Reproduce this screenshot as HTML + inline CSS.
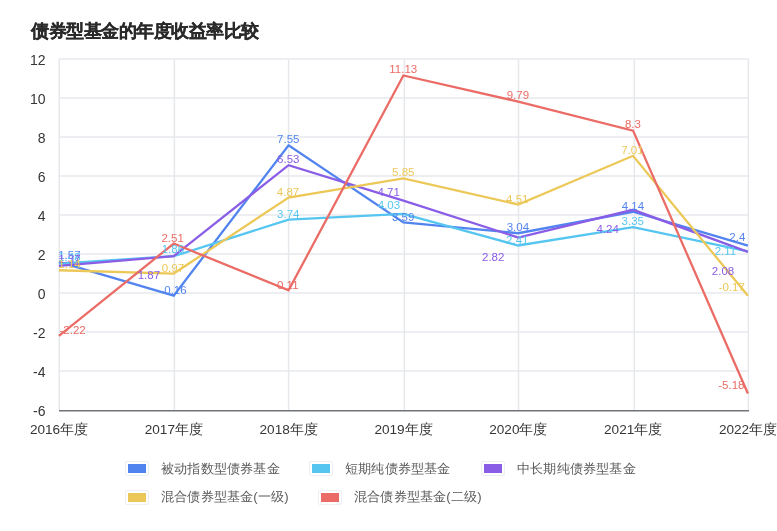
<!DOCTYPE html>
<html><head><meta charset="utf-8"><style>
html,body{margin:0;padding:0;background:#fff;}
body{width:777px;height:531px;overflow:hidden;position:relative;will-change:transform;font-family:"Liberation Sans",sans-serif;}
svg{position:absolute;left:0;top:0;will-change:transform;}
svg text{font-family:"Liberation Sans",sans-serif;}
.title{position:absolute;left:30.5px;top:19px;font-size:18px;transform:scale(0.974);transform-origin:0 0;font-weight:bold;color:#2a2a2a;-webkit-text-stroke:0.25px #2a2a2a;white-space:nowrap;line-height:24px;}
.lg{position:absolute;height:16px;font-size:13px;color:#5c5c5c;white-space:nowrap;line-height:16px;}
.ic{position:absolute;left:-1px;top:0;width:24px;height:15px;box-sizing:border-box;border:1px solid #edeff2;border-radius:2px;background:#fff;}
.ic i{position:absolute;left:2px;top:2px;width:18px;height:9px;}
.lg span{position:absolute;left:34.5px;top:0;transform:scaleX(1.015);transform-origin:0 0;}
</style></head><body>
<div class="title">债券型基金的年度收益率比较</div>
<svg width="777" height="531" viewBox="0 0 777 531">

<line x1="59" y1="58.9" x2="748.5" y2="58.9" stroke="#e6e8ec" stroke-width="1.5"/>
<line x1="59" y1="97.9" x2="748.5" y2="97.9" stroke="#e6e8ec" stroke-width="1.5"/>
<line x1="59" y1="136.9" x2="748.5" y2="136.9" stroke="#e6e8ec" stroke-width="1.5"/>
<line x1="59" y1="175.9" x2="748.5" y2="175.9" stroke="#e6e8ec" stroke-width="1.5"/>
<line x1="59" y1="214.9" x2="748.5" y2="214.9" stroke="#e6e8ec" stroke-width="1.5"/>
<line x1="59" y1="253.9" x2="748.5" y2="253.9" stroke="#e6e8ec" stroke-width="1.5"/>
<line x1="59" y1="292.9" x2="748.5" y2="292.9" stroke="#e6e8ec" stroke-width="1.5"/>
<line x1="59" y1="331.9" x2="748.5" y2="331.9" stroke="#e6e8ec" stroke-width="1.5"/>
<line x1="59" y1="370.9" x2="748.5" y2="370.9" stroke="#e6e8ec" stroke-width="1.5"/>
<line x1="59.2" y1="59" x2="59.2" y2="410" stroke="#e6e8ec" stroke-width="1.5"/>
<line x1="174.4" y1="59" x2="174.4" y2="410" stroke="#e6e8ec" stroke-width="1.5"/>
<line x1="288.6" y1="59" x2="288.6" y2="410" stroke="#e6e8ec" stroke-width="1.5"/>
<line x1="404.4" y1="59" x2="404.4" y2="410" stroke="#e6e8ec" stroke-width="1.5"/>
<line x1="518.5" y1="59" x2="518.5" y2="410" stroke="#e6e8ec" stroke-width="1.5"/>
<line x1="634.3" y1="59" x2="634.3" y2="410" stroke="#e6e8ec" stroke-width="1.5"/>
<line x1="748.4" y1="59" x2="748.4" y2="410" stroke="#e6e8ec" stroke-width="1.5"/>
<line x1="59" y1="410.7" x2="749" y2="410.7" stroke="#707279" stroke-width="1.6"/>
<text x="45.5" y="64.9" text-anchor="end" font-size="14" fill="#363636">12</text>
<text x="45.5" y="103.9" text-anchor="end" font-size="14" fill="#363636">10</text>
<text x="45.5" y="142.9" text-anchor="end" font-size="14" fill="#363636">8</text>
<text x="45.5" y="181.9" text-anchor="end" font-size="14" fill="#363636">6</text>
<text x="45.5" y="220.9" text-anchor="end" font-size="14" fill="#363636">4</text>
<text x="45.5" y="259.9" text-anchor="end" font-size="14" fill="#363636">2</text>
<text x="45.5" y="298.9" text-anchor="end" font-size="14" fill="#363636">0</text>
<text x="45.5" y="337.9" text-anchor="end" font-size="14" fill="#363636">-2</text>
<text x="45.5" y="376.9" text-anchor="end" font-size="14" fill="#363636">-4</text>
<text x="45.5" y="415.9" text-anchor="end" font-size="14" fill="#363636">-6</text>
<text x="59.0" y="434.3" text-anchor="middle" font-size="13.6" fill="#363636">2016年度</text>
<text x="173.83333333333331" y="434.3" text-anchor="middle" font-size="13.6" fill="#363636">2017年度</text>
<text x="288.66666666666663" y="434.3" text-anchor="middle" font-size="13.6" fill="#363636">2018年度</text>
<text x="403.5" y="434.3" text-anchor="middle" font-size="13.6" fill="#363636">2019年度</text>
<text x="518.3333333333333" y="434.3" text-anchor="middle" font-size="13.6" fill="#363636">2020年度</text>
<text x="633.1666666666666" y="434.3" text-anchor="middle" font-size="13.6" fill="#363636">2021年度</text>
<text x="748.0" y="434.3" text-anchor="middle" font-size="13.6" fill="#363636">2022年度</text>
<polyline points="58.90,261.88 173.73,295.62 288.57,145.28 403.40,222.50 518.23,233.22 633.07,211.77 747.90,245.70" fill="none" stroke="#5284F0" stroke-width="2.3" stroke-linejoin="miter"/>
<polyline points="58.90,263.64 173.73,256.23 288.57,219.57 403.40,213.91 518.23,245.50 633.07,227.18 747.90,251.36" fill="none" stroke="#56C6F0" stroke-width="2.3" stroke-linejoin="miter"/>
<polyline points="58.90,265.78 173.73,256.03 288.57,165.16 403.40,200.66 518.23,237.51 633.07,209.82 747.90,251.94" fill="none" stroke="#8A5DE6" stroke-width="2.3" stroke-linejoin="miter"/>
<polyline points="58.90,270.27 173.73,273.58 288.57,197.53 403.40,178.43 518.23,204.56 633.07,155.81 747.90,295.81" fill="none" stroke="#ECC858" stroke-width="2.3" stroke-linejoin="miter"/>
<polyline points="58.90,335.79 173.73,243.56 288.57,290.36 403.40,75.46 518.23,101.60 633.07,130.65 747.90,393.51" fill="none" stroke="#EB6C66" stroke-width="2.3" stroke-linejoin="miter"/>
<text x="69.35" y="259.10" text-anchor="middle" font-size="11.5" fill="#5284F0">1.57</text>
<text x="69.35" y="260.80" text-anchor="middle" font-size="11.5" fill="#56C6F0">1.48</text>
<text x="69.35" y="262.70" text-anchor="middle" font-size="11.5" fill="#8A5DE6">1.37</text>
<text x="69.50" y="267.70" text-anchor="middle" font-size="11.5" fill="#ECC858">1.14</text>
<text x="72.65" y="333.60" text-anchor="middle" font-size="11.5" fill="#EB6C66">-2.22</text>
<text x="173.55" y="293.50" text-anchor="middle" font-size="11.5" fill="#5284F0">-0.16</text>
<text x="172.85" y="253.20" text-anchor="middle" font-size="11.5" fill="#56C6F0">1.86</text>
<text x="148.85" y="278.70" text-anchor="middle" font-size="11.5" fill="#8A5DE6">1.87</text>
<text x="172.85" y="271.50" text-anchor="middle" font-size="11.5" fill="#ECC858">0.97</text>
<text x="172.60" y="241.70" text-anchor="middle" font-size="11.5" fill="#EB6C66">2.51</text>
<text x="288.25" y="142.70" text-anchor="middle" font-size="11.5" fill="#5284F0">7.55</text>
<text x="288.25" y="217.70" text-anchor="middle" font-size="11.5" fill="#56C6F0">3.74</text>
<text x="288.25" y="162.70" text-anchor="middle" font-size="11.5" fill="#8A5DE6">6.53</text>
<text x="288.00" y="195.50" text-anchor="middle" font-size="11.5" fill="#ECC858">4.87</text>
<text x="287.80" y="288.60" text-anchor="middle" font-size="11.5" fill="#EB6C66">0.11</text>
<text x="403.10" y="220.70" text-anchor="middle" font-size="11.5" fill="#5284F0">3.59</text>
<text x="388.95" y="208.80" text-anchor="middle" font-size="11.5" fill="#56C6F0">4.03</text>
<text x="388.70" y="195.90" text-anchor="middle" font-size="11.5" fill="#8A5DE6">4.71</text>
<text x="403.25" y="175.80" text-anchor="middle" font-size="11.5" fill="#ECC858">5.85</text>
<text x="403.30" y="72.80" text-anchor="middle" font-size="11.5" fill="#EB6C66">11.13</text>
<text x="517.90" y="231.00" text-anchor="middle" font-size="11.5" fill="#5284F0">3.04</text>
<text x="517.30" y="244.10" text-anchor="middle" font-size="11.5" fill="#56C6F0">2.41</text>
<text x="493.20" y="261.00" text-anchor="middle" font-size="11.5" fill="#8A5DE6">2.82</text>
<text x="517.30" y="203.40" text-anchor="middle" font-size="11.5" fill="#ECC858">4.51</text>
<text x="517.85" y="98.60" text-anchor="middle" font-size="11.5" fill="#EB6C66">9.79</text>
<text x="632.95" y="209.60" text-anchor="middle" font-size="11.5" fill="#5284F0">4.14</text>
<text x="632.75" y="224.70" text-anchor="middle" font-size="11.5" fill="#56C6F0">3.35</text>
<text x="607.70" y="232.70" text-anchor="middle" font-size="11.5" fill="#8A5DE6">4.24</text>
<text x="632.40" y="153.80" text-anchor="middle" font-size="11.5" fill="#ECC858">7.01</text>
<text x="632.95" y="127.50" text-anchor="middle" font-size="11.5" fill="#EB6C66">8.3</text>
<text x="737.30" y="240.80" text-anchor="middle" font-size="11.5" fill="#5284F0">2.4</text>
<text x="725.40" y="254.70" text-anchor="middle" font-size="11.5" fill="#56C6F0">2.11</text>
<text x="723.05" y="274.60" text-anchor="middle" font-size="11.5" fill="#8A5DE6">2.08</text>
<text x="731.75" y="290.80" text-anchor="middle" font-size="11.5" fill="#ECC858">-0.17</text>
<text x="731.40" y="389.00" text-anchor="middle" font-size="11.5" fill="#EB6C66">-5.18</text>
</svg>
<div class="lg" style="left:126px;top:461px;"><div class="ic"><i style="background:#5284F0"></i></div><span style="top:0px">被动指数型债券基金</span></div>
<div class="lg" style="left:310px;top:461px;"><div class="ic"><i style="background:#56C6F0"></i></div><span style="top:0px">短期纯债券型基金</span></div>
<div class="lg" style="left:482px;top:461px;"><div class="ic"><i style="background:#8A5DE6"></i></div><span style="top:0px">中长期纯债券型基金</span></div>
<div class="lg" style="left:126px;top:490px;"><div class="ic"><i style="background:#ECC858"></i></div><span style="top:-1.2px">混合债券型基金(一级)</span></div>
<div class="lg" style="left:319px;top:490px;"><div class="ic"><i style="background:#EB6C66"></i></div><span style="top:-1.2px">混合债券型基金(二级)</span></div>
</body></html>
